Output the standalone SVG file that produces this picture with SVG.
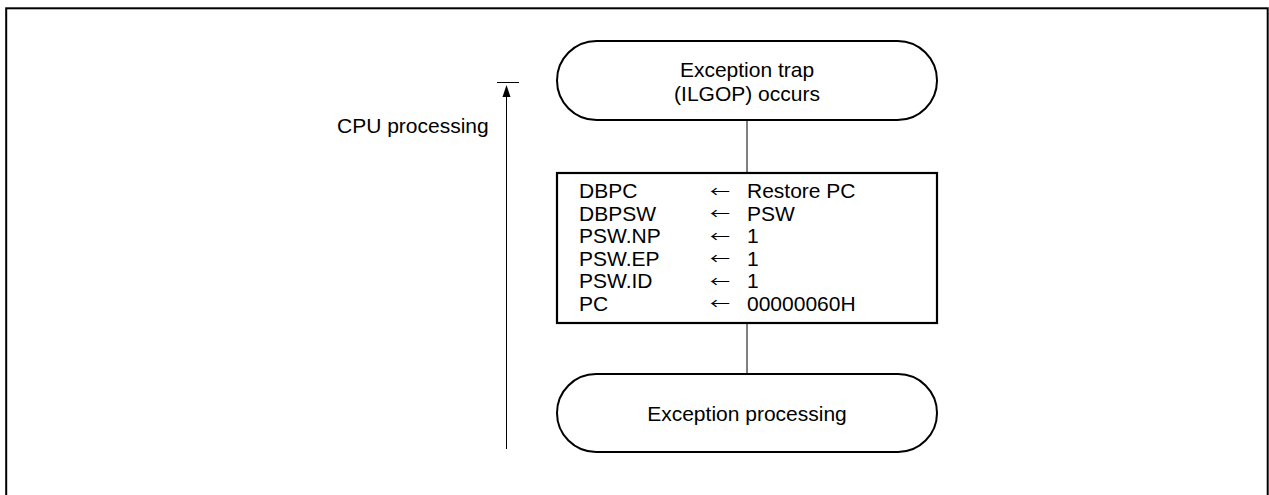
<svg xmlns="http://www.w3.org/2000/svg" width="1269" height="495" viewBox="0 0 1269 495">
<defs>
<style>
text{font-family:"Liberation Sans",Arial,sans-serif;font-size:21px;fill:#000}
.c{text-anchor:middle}
.ar{font-family:"Noto Sans CJK JP","DejaVu Sans",sans-serif;font-size:15px}
.term{fill:#fff;stroke:#000;stroke-width:2}
.box{fill:#fff;stroke:#000;stroke-width:2.2}
.ln{stroke:#000;stroke-width:1;fill:none}
</style>
</defs>
<rect x="0" y="0" width="1269" height="495" fill="#fff"/>
<rect x="6.2" y="8.3" width="1261.5" height="600" fill="none" stroke="#000" stroke-width="2"/>
<g id="connectors">
<line class="ln" x1="747" y1="120" x2="747" y2="173"/>
<line class="ln" x1="747" y1="323" x2="747" y2="374"/>
</g>
<g id="cpu-processing">
<line class="ln" x1="497" y1="82.5" x2="519" y2="82.5"/>
<path d="M502.5,97 L506.5,85 L510.5,97 Z" fill="#000"/>
<line class="ln" x1="506.5" y1="95" x2="506.5" y2="449"/>
<text x="337" y="133">CPU processing</text>
</g>
<g id="start">
<rect class="term" x="557" y="41" width="380" height="79" rx="39.5" ry="39.5"/>
<text class="c" x="747" y="77">Exception trap</text>
<text class="c" x="747" y="100.5">(ILGOP) occurs</text>
</g>
<g id="process">
<rect class="box" x="557" y="173" width="380" height="150"/>
<text x="579" y="198">DBPC</text>
<text x="579" y="220.5">DBPSW</text>
<text x="579" y="243">PSW.NP</text>
<text x="579" y="265.5">PSW.EP</text>
<text x="579" y="288">PSW.ID</text>
<text x="579" y="310.5">PC</text>
<text class="ar" x="710" y="196.5" textLength="20" lengthAdjust="spacingAndGlyphs">←</text>
<text class="ar" x="710" y="219" textLength="20" lengthAdjust="spacingAndGlyphs">←</text>
<text class="ar" x="710" y="241.5" textLength="20" lengthAdjust="spacingAndGlyphs">←</text>
<text class="ar" x="710" y="264" textLength="20" lengthAdjust="spacingAndGlyphs">←</text>
<text class="ar" x="710" y="286.5" textLength="20" lengthAdjust="spacingAndGlyphs">←</text>
<text class="ar" x="710" y="309" textLength="20" lengthAdjust="spacingAndGlyphs">←</text>
<text x="747" y="198">Restore PC</text>
<text x="747" y="220.5">PSW</text>
<text x="747" y="243">1</text>
<text x="747" y="265.5">1</text>
<text x="747" y="288">1</text>
<text x="747" y="310.5">00000060H</text>
</g>
<g id="end">
<rect class="term" x="557" y="374" width="380" height="78" rx="39" ry="39"/>
<text class="c" x="747" y="421">Exception processing</text>
</g>
</svg>
